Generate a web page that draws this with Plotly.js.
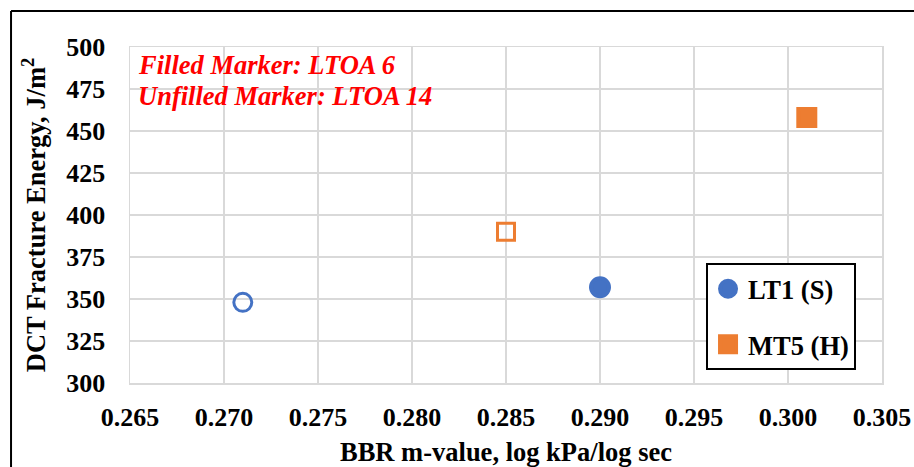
<!DOCTYPE html>
<html>
<head>
<meta charset="utf-8">
<script src="https://cdn.plot.ly/plotly-3.0.1.min.js"></script>
<style>
html,body{margin:0;padding:0;background:#fff;}
#chart{width:914px;height:467px;}
</style>
</head>
<body>
<div id="chart"></div>
<script>
// Data
const seriesNames = ["LT1 (S)", "MT5 (H)"];
const lt1_ltoa6_x = [0.290];
const lt1_ltoa6_y = [357];
const lt1_ltoa14_x = [0.271];
const lt1_ltoa14_y = [348];
const mt5_ltoa6_x = [0.301];
const mt5_ltoa6_y = [458];
const mt5_ltoa14_x = [0.285];
const mt5_ltoa14_y = [390];
const xTicks = [0.265, 0.270, 0.275, 0.280, 0.285, 0.290, 0.295, 0.300, 0.305];
const yTicks = [300, 325, 350, 375, 400, 425, 450, 475, 500];
const noteLines = ["Filled Marker: LTOA 6", "Unfilled Marker: LTOA 14"];

const blue = "#4472C4", orange = "#ED7D31";
const serif = "'Liberation Serif', 'Times New Roman', serif";

const traces = [
  {x: lt1_ltoa6_x, y: lt1_ltoa6_y, type: "scatter", mode: "markers", name: seriesNames[0],
   legendgroup: "a", showlegend: true,
   marker: {symbol: "circle", size: 18, color: blue, line: {width: 4, color: blue}}},
  {x: lt1_ltoa14_x, y: lt1_ltoa14_y, type: "scatter", mode: "markers", name: seriesNames[0],
   legendgroup: "a", showlegend: false,
   marker: {symbol: "circle-open", size: 18, color: blue, line: {width: 3, color: blue}}},
  {x: mt5_ltoa6_x, y: mt5_ltoa6_y, type: "scatter", mode: "markers", name: seriesNames[1],
   legendgroup: "b", showlegend: true,
   marker: {symbol: "square", size: 17, color: orange, line: {width: 4, color: orange}}},
  {x: mt5_ltoa14_x, y: mt5_ltoa14_y, type: "scatter", mode: "markers", name: seriesNames[1],
   legendgroup: "b", showlegend: false,
   marker: {symbol: "square-open", size: 17, color: orange, line: {width: 3, color: orange}}}
];

const layout = {
  width: 914, height: 467,
  margin: {l: 130, r: 32, t: 47, b: 84},
  paper_bgcolor: "#fff", plot_bgcolor: "#fff",
  showlegend: true,
  font: {family: serif, color: "#000"},
  xaxis: {
    range: [0.265, 0.305], tickvals: xTicks, ticktext: xTicks.map(v => v.toFixed(3)),
    showgrid: true, gridcolor: "#D9D9D9", gridwidth: 1.5,
    showline: true, linecolor: "#D9D9D9", linewidth: 1.5, mirror: true,
    zeroline: false, ticks: "", ticklabelstandoff: 10,
    tickfont: {family: serif, size: 26, color: "#000", weight: "bold"},
    title: {text: "<b>BBR m-value, log kPa/log sec</b>", font: {family: serif, size: 26.5, color: "#000"}, standoff: 11}
  },
  yaxis: {
    range: [300, 500], tickvals: yTicks, ticktext: yTicks.map(String),
    showgrid: true, gridcolor: "#D9D9D9", gridwidth: 1.5,
    showline: true, linecolor: "#D9D9D9", linewidth: 1.5, mirror: true,
    zeroline: false, ticks: "", ticklabelstandoff: 18,
    tickfont: {family: serif, size: 26, color: "#000", weight: "bold"},
    title: {text: "<b>DCT Fracture Energy, J/m<sup>2</sup></b>", font: {family: serif, size: 26.5, color: "#000"}, standoff: 13}
  },
  legend: {
    x: 0.766, y: 0.357, xanchor: "left", yanchor: "top",
    bordercolor: "#000", borderwidth: 2, bgcolor: "#fff",
    traceorder: "grouped", tracegroupgap: 18,
    font: {family: serif, size: 26.5, color: "#000", weight: "bold"}
  },
  annotations: [
    {xref: "paper", yref: "paper", x: 0.008, y: 0.946, xanchor: "left", yanchor: "middle",
     text: "<b><i>" + noteLines[0] + "</i></b>", showarrow: false,
     font: {family: serif, size: 26.5, color: "#FF0000"}},
    {xref: "paper", yref: "paper", x: 0.008, y: 0.854, xanchor: "left", yanchor: "middle",
     text: "<b><i>" + noteLines[1] + "</i></b>", showarrow: false,
     font: {family: serif, size: 26.5, color: "#FF0000"}}
  ],
  shapes: [
    {type: "line", xref: "paper", yref: "paper", x0: -0.1582, x1: -0.1582, y0: 1.107, y1: -0.3,
     line: {color: "#000", width: 2}},
    {type: "line", xref: "paper", yref: "paper", x0: -0.1582, x1: 1.06, y0: 1.107, y1: 1.107,
     line: {color: "#000", width: 2}}
  ]
};

Plotly.newPlot("chart", traces, layout, {displayModeBar: false, staticPlot: true});
</script>
</body>
</html>
